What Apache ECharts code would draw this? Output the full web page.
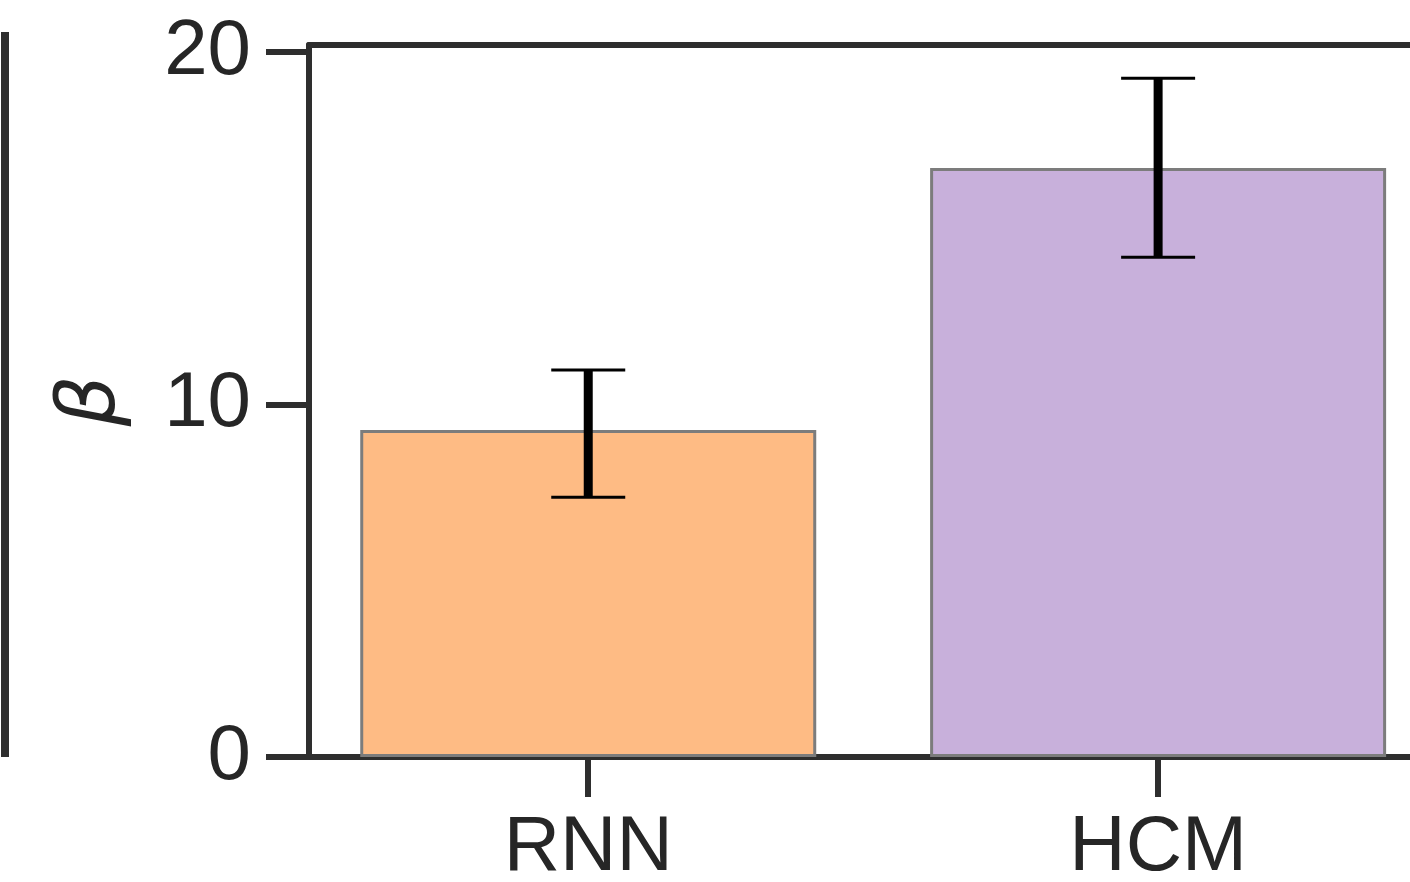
<!DOCTYPE html>
<html>
<head>
<meta charset="utf-8">
<script src="https://cdn.jsdelivr.net/npm/echarts@6/dist/echarts.min.js"></script>
<style>html,body{margin:0;padding:0;background:#fff;}#c{width:1410px;height:882px;}</style>
</head>
<body>
<div id="c"></div>
<script>
const categories = ['RNN', 'HCM'];
const betaValues = [9.28, 16.71];
const errLower = [7.37, 14.18];
const errUpper = [10.98, 19.26];
const barColors = ['#FEBB84', '#C8B0DB'];
const yTicks = [0, 10, 20];
const xTicks = [0, 1];

const chart = echarts.init(document.getElementById('c'), null, {renderer: 'canvas'});
const axisColor = '#2e2e2e';
const textColor = '#262626';
const font = 'Liberation Sans, Arial, sans-serif';
const xMin = -0.49, xMax = 1.442;

chart.setOption({
  animation: false,
  backgroundColor: '#ffffff',
  grid: {left: 309, top: 45, right: 0, height: 712, outerBoundsMode: 'none', containLabel: false},
  graphic: [{
    type: 'line',
    shape: {x1: 5, y1: 32, x2: 5, y2: 757},
    style: {stroke: axisColor, lineWidth: 8}
  }],
  xAxis: [{
    type: 'value',
    min: xMin,
    max: xMax,
    position: 'bottom',
    axisLine: {show: true, onZero: false, lineStyle: {color: axisColor, width: 6}},
    axisTick: {show: true, length: 40, customValues: xTicks, lineStyle: {color: axisColor, width: 6}},
    axisLabel: {show: true, color: textColor, fontSize: 78, fontFamily: font, margin: 52,
      customValues: xTicks, formatter: v => categories[Math.round(v)] || ''},
    splitLine: {show: false}
  }, {
    type: 'value',
    min: xMin,
    max: xMax,
    position: 'top',
    axisLine: {show: true, onZero: false, lineStyle: {color: axisColor, width: 6}},
    axisTick: {show: false},
    axisLabel: {show: false},
    splitLine: {show: false}
  }],
  yAxis: {
    type: 'value',
    min: 0,
    max: 20.2,
    position: 'left',
    name: 'β',
    nameLocation: 'middle',
    nameGap: 176,
    nameRotate: 90,
    nameTextStyle: {color: textColor, fontSize: 80, fontStyle: 'italic', fontFamily: 'DejaVu Sans'},
    axisLine: {show: true, onZero: false, lineStyle: {color: axisColor, width: 6}},
    axisTick: {show: true, length: 43, customValues: yTicks, lineStyle: {color: axisColor, width: 6}},
    axisLabel: {color: textColor, fontSize: 78, fontFamily: font, margin: 58, customValues: yTicks},
    splitLine: {show: false}
  },
  series: [{
    type: 'bar',
    barWidth: 456,
    data: betaValues.map((v, i) => ({value: [i, v], itemStyle: {color: barColors[i]}})),
    itemStyle: {borderColor: '#7c7c7c', borderWidth: 3},
    z: 2
  }, {
    type: 'custom',
    z: 5,
    data: categories.map((c, i) => [i, errLower[i], errUpper[i]]),
    renderItem: function (params, api) {
      const x = api.value(0);
      const lo = api.coord([x, api.value(1)]);
      const hi = api.coord([x, api.value(2)]);
      const hw = 37;
      return {
        type: 'group',
        children: [
          {type: 'line', shape: {x1: lo[0], y1: lo[1], x2: hi[0], y2: hi[1]}, style: {stroke: '#000', lineWidth: 9}},
          {type: 'line', shape: {x1: lo[0] - hw, y1: lo[1], x2: lo[0] + hw, y2: lo[1]}, style: {stroke: '#000', lineWidth: 3}},
          {type: 'line', shape: {x1: hi[0] - hw, y1: hi[1], x2: hi[0] + hw, y2: hi[1]}, style: {stroke: '#000', lineWidth: 3}}
        ]
      };
    }
  }]
});
</script>
</body>
</html>
